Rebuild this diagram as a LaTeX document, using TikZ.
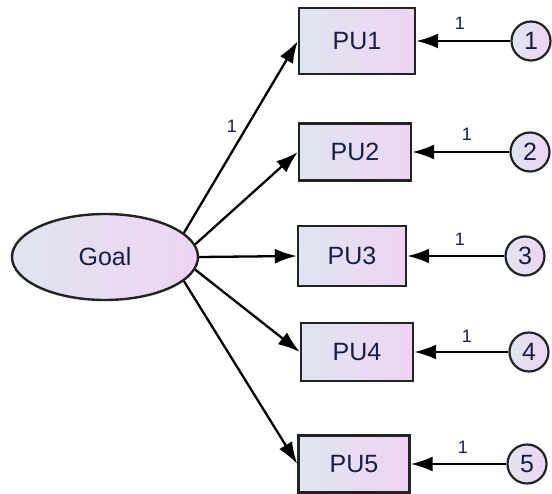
\documentclass[tikz,border=0pt]{standalone}
\usepackage{fontspec}
\setmainfont{Liberation Sans}
\usetikzlibrary{shapes.geometric,arrows.meta}
\definecolor{txt}{RGB}{25,30,70}
\definecolor{fillL}{RGB}{224,229,240}
\definecolor{fillR}{RGB}{237,212,242}
\definecolor{bord}{RGB}{35,35,35}
\tikzset{
  obs/.style={rectangle, draw=bord, line width=2.4pt, left color=fillL, right color=fillR,
    text=txt, font=\fontsize{25}{27}\selectfont, inner sep=0pt},
  lat/.style={ellipse, draw=bord, line width=2.4pt, left color=fillL, right color=fillR,
    text=txt, font=\fontsize{25}{27}\selectfont, minimum width=186pt, minimum height=86pt, inner sep=0pt},
  err/.style={circle, draw=bord, line width=2.2pt, left color=fillL, right color=fillR,
    text=txt, font=\fontsize{25}{27}\selectfont, minimum size=39pt, inner sep=0pt},
  arr/.style={draw=black, line width=2.3pt, -{Latex[length=22pt,width=15pt]}},
  wlab/.style={text=txt, font=\fontsize{18}{19}\selectfont, inner sep=0pt}
}
\begin{document}
\begin{tikzpicture}[x=1pt,y=-1pt]
\useasboundingbox (0,0) rectangle (552,494);
\node[lat] (goal) at (105,257) {Goal};
\node[obs, minimum width=116pt, minimum height=66pt] (pu1) at (357,41) {PU1};
\node[obs, minimum width=112pt, minimum height=57pt] (pu2) at (355,152) {PU2};
\node[obs, minimum width=108pt, minimum height=60pt] (pu3) at (352,256) {PU3};
\node[obs, minimum width=112pt, minimum height=58pt] (pu4) at (357,352) {PU4};
\node[obs, minimum width=111pt, minimum height=57pt] (pu5) at (354,464) {PU5};
\node[err] (e1) at (531,41) {1};
\node[err] (e2) at (530,152) {2};
\node[err] (e3) at (525,256) {3};
\node[err] (e4) at (529,352) {4};
\node[err] (e5) at (527,464) {5};
\draw[arr] (goal.17) -- (pu1.west);
\draw[arr] (goal.8) -- (pu2.west);
\draw[arr] (goal.0) -- (pu3.west);
\draw[arr] (goal.-8) -- (pu4.west);
\draw[arr] (goal.-17) -- (pu5.west);
\draw[arr] (e1) -- (pu1);
\draw[arr] (e2) -- (pu2);
\draw[arr] (e3) -- (pu3);
\draw[arr] (e4) -- (pu4);
\draw[arr] (e5) -- (pu5);
\node[wlab] (l0) at (232,126) {1};
\node[wlab] (l1) at (460,23) {1};
\node[wlab] (l2) at (467,134) {1};
\node[wlab] (l3) at (460,239) {1};
\node[wlab] (l4) at (467,336) {1};
\node[wlab] (l5) at (463,447) {1};
\end{tikzpicture}
\end{document}
